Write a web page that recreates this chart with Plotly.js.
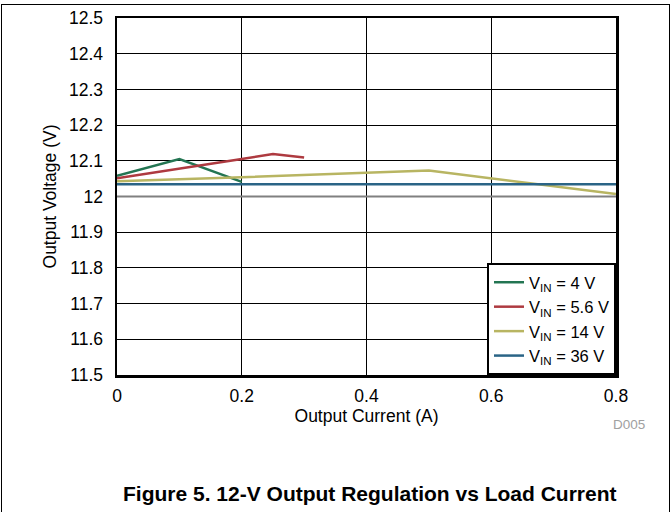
<!DOCTYPE html>
<html>
<head>
<meta charset="utf-8">
<script src="https://cdn.plot.ly/plotly-3.0.1.min.js"></script>
<style>
html,body{margin:0;padding:0;background:#fff;}
#wrap{position:relative;width:671px;height:512px;overflow:hidden;}
#chart{position:absolute;left:0;top:0;width:671px;height:512px;}
#frame{position:absolute;left:1px;top:4px;width:667px;height:520px;border:1.5px solid #000;pointer-events:none;}
</style>
</head>
<body>
<div id="wrap"><div id="chart"></div><div id="frame"></div></div>
<script>
// Data
const current4 = [0, 0.1, 0.2];
const vout4 = [12.058, 12.105, 12.041];

const current56 = [0, 0.1, 0.2, 0.25, 0.3];
const vout56 = [12.051, 12.077, 12.105, 12.119, 12.109];

const current14 = [0, 0.2, 0.5, 0.8];
const vout14 = [12.043, 12.054, 12.073, 12.007];

const current36 = [0, 0.2, 0.4, 0.6, 0.8];
const vout36 = [12.034, 12.034, 12.034, 12.034, 12.034];

const seriesNames = ['V<sub>IN</sub> = 4 V', 'V<sub>IN</sub> = 5.6 V', 'V<sub>IN</sub> = 14 V', 'V<sub>IN</sub> = 36 V'];
const seriesColors = ['#237552', '#ae3a40', '#b8b562', '#2a6486'];

const yTicks = [11.5, 11.6, 11.7, 11.8, 11.9, 12, 12.1, 12.2, 12.3, 12.4, 12.5];
const xTicks = [0, 0.2, 0.4, 0.6, 0.8];

const xs = [current4, current56, current14, current36];
const ys = [vout4, vout56, vout14, vout36];

const traces = xs.map((x, i) => ({
  x: x, y: ys[i], type: 'scatter', mode: 'lines', name: seriesNames[i],
  line: {color: seriesColors[i], width: 2.5}
}));

const fam = 'Liberation Sans, Arial, sans-serif';
const font = {family: fam, size: 17.5, color: '#000'};

const layout = {
  width: 671, height: 512,
  margin: {l: 117, r: 55, t: 18, b: 137},
  paper_bgcolor: '#fff', plot_bgcolor: '#fff',
  font: font,
  showlegend: true,
  legend: {
    x: 1, y: 0, xanchor: 'right', yanchor: 'bottom',
    bordercolor: '#000', borderwidth: 2, bgcolor: '#fff',
    font: {family: fam, size: 16.5, color: '#000'},
    tracegroupgap: 0, itemwidth: 30
  },
  xaxis: {
    range: [0, 0.8], tickvals: xTicks, ticktext: xTicks.map(String),
    showgrid: true, gridcolor: '#000', gridwidth: 1,
    showline: true, linecolor: '#000', linewidth: 2.5, mirror: true,
    zeroline: false, ticks: '', ticklabelstandoff: 3,
    title: {text: 'Output Current (A)', font: {family: fam, size: 17.5, color: '#000'}, standoff: 0},
    automargin: false, fixedrange: true
  },
  yaxis: {
    range: [11.5, 12.5], tickvals: yTicks, ticktext: yTicks.map(String),
    showgrid: true, gridcolor: '#000', gridwidth: 1,
    showline: true, linecolor: '#000', linewidth: 2.5, mirror: true,
    zeroline: false, ticks: '', ticklabelstandoff: 8,
    title: {text: 'Output Voltage (V)', font: {family: fam, size: 17.5, color: '#000'}, standoff: 8},
    automargin: false, fixedrange: true
  },
  shapes: [{
    type: 'line', xref: 'x domain', yref: 'y', x0: 0, x1: 1, y0: 12, y1: 12,
    line: {color: '#808080', width: 2}, layer: 'above'
  }],
  annotations: [
    {text: 'D005', xref: 'paper', yref: 'paper', x: 1.026, y: -0.138, xanchor: 'center', yanchor: 'middle',
     showarrow: false, font: {family: fam, size: 13.5, color: '#a0a0a0'}},
    {text: '<b>Figure 5. 12-V Output Regulation vs Load Current</b>', xref: 'paper', yref: 'paper',
     x: 0.508, y: -0.333, xanchor: 'center', yanchor: 'middle', showarrow: false,
     font: {family: fam, size: 21, color: '#000'}}
  ]
};

Plotly.newPlot('chart', traces, layout, {displayModeBar: false, staticPlot: true});
</script>
</body>
</html>
